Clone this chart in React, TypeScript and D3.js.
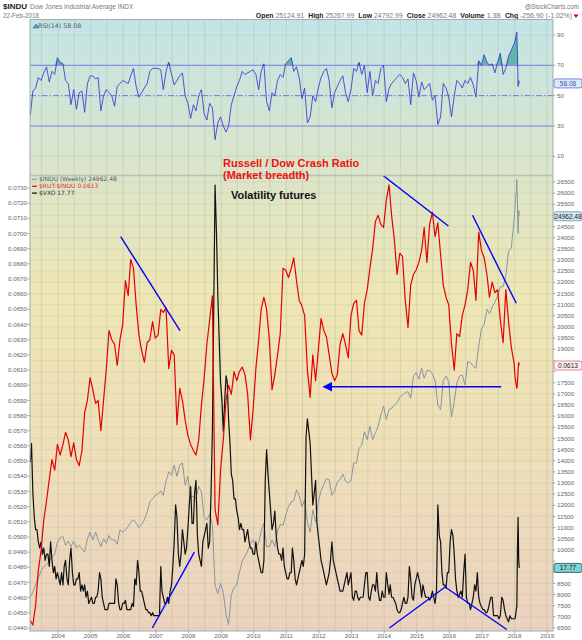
import * as d3 from 'd3';

// ---- data ----
const years = ['2004', '2005', '2006', '2007', '2008', '2009', '2010', '2011', '2012', '2013', '2014', '2015', '2016', '2017', '2018', '2019'];
const rsiTicks = [10, 30, 50, 70, 90];
const induTicks = d3.range(6500, 26501, 500);
const ratioTicks = d3.range(440, 731, 10).map(v => v / 10000);

// monthly closes, Feb 2003 .. Dec 2017
const induMonthly = [
  7900, 8100, 8450, 8750, 9050, 9250, 9350, 9500, 9700, 9800, 10350,
  10550, 10600, 10200, 10400, 10150, 10400, 10100, 10200, 10050, 9900, 10500, 10800,
  10450, 10800, 10450, 10150, 10500, 10300, 10650, 10450, 10450, 10250, 10900, 10800,
  10900, 11050, 11250, 11350, 11200, 11000, 11150, 11350, 11700, 12150, 12300, 12450,
  12500, 12650, 12450, 13100, 13500, 13350, 13800, 13300, 13800, 13900, 12900, 13300,
  12400, 12400, 12300, 12850, 12600, 11450, 11350, 11600, 11150, 8400, 8050, 8500,
  8100, 7100, 6650, 8000, 8300, 8450, 9000, 9500, 9700, 9950, 10300, 10450,
  10150, 10300, 10850, 11200, 10150, 10150, 10450, 10150, 10850, 11150, 11100, 11550,
  11950, 12150, 12200, 12700, 12450, 11950, 12250, 11250, 10800, 11800, 11250, 12150,
  12650, 12950, 13200, 13150, 12450, 12650, 13050, 13150, 13400, 13100, 13000, 13100,
  13900, 13900, 14550, 14700, 15300, 14950, 15550, 14950, 15250, 15550, 16050, 16450,
  15850, 16300, 16350, 16500, 16600, 16850, 16950, 17050, 17100, 16800, 17800, 17950,
  17650, 18150, 17700, 18050, 18050, 17900, 17600, 16500, 16300, 17600, 17800, 17550,
  15950, 16650, 17500, 17800, 17850, 17400, 18450, 18400, 18250, 18150, 19150, 19900,
  20100, 20800, 20600, 20900, 21100, 21400, 21800, 21800, 22300, 23400, 23550, 24750,
];
const ratioMonthly = [
  0.0445, 0.0442, 0.0455, 0.0478, 0.0491, 0.0511, 0.0524, 0.0538, 0.0551, 0.0544, 0.0561,
  0.0554, 0.0561, 0.0569, 0.0564, 0.0553, 0.0562, 0.0551, 0.0547, 0.0557, 0.0582, 0.0590, 0.0605,
  0.0597, 0.0588, 0.0590, 0.0570, 0.0590, 0.0611, 0.0636, 0.0630, 0.0627, 0.0613, 0.0630, 0.0640,
  0.0669, 0.0659, 0.0683, 0.0677, 0.0653, 0.0633, 0.0623, 0.0615, 0.0628, 0.0630, 0.0642, 0.0631,
  0.0633, 0.0650, 0.0648, 0.0651, 0.0611, 0.0623, 0.0620, 0.0574, 0.0598, 0.0590, 0.0577, 0.0567,
  0.0561, 0.0557, 0.0554, 0.0564, 0.0587, 0.0605, 0.0627, 0.0643, 0.0659, 0.0518, 0.0508, 0.0544,
  0.0564, 0.0590, 0.0600, 0.0594, 0.0609, 0.0603, 0.0609, 0.0612, 0.0607, 0.0594, 0.0564, 0.0584,
  0.0611, 0.0630, 0.0650, 0.0658, 0.0650, 0.0630, 0.0597, 0.0607, 0.0620, 0.0634, 0.0677, 0.0676,
  0.0671, 0.0677, 0.0684, 0.0669, 0.0656, 0.0652, 0.0646, 0.0610, 0.0592, 0.0620, 0.0603, 0.0623,
  0.0644, 0.0636, 0.0632, 0.0620, 0.0608, 0.0603, 0.0607, 0.0627, 0.0634, 0.0627, 0.0618, 0.0646,
  0.0654, 0.0656, 0.0636, 0.0633, 0.0654, 0.0663, 0.0677, 0.0690, 0.0708, 0.0712, 0.0706, 0.0704,
  0.0722, 0.0732, 0.0712, 0.0696, 0.0673, 0.0687, 0.0685, 0.0656, 0.0638, 0.0666, 0.0673, 0.0676,
  0.0681, 0.0689, 0.0704, 0.0681, 0.0706, 0.0714, 0.0698, 0.0707, 0.0686, 0.0666, 0.0658, 0.0653,
  0.0627, 0.0610, 0.0634, 0.0632, 0.0646, 0.0653, 0.0663, 0.0681, 0.0676, 0.0656, 0.0701, 0.0689,
  0.0684, 0.0673, 0.0658, 0.0668, 0.0661, 0.0663, 0.0643, 0.0628, 0.0663, 0.0642, 0.0625, 0.0615,
];
const rsiMonthly = [
  37, 53, 55, 62, 60, 65, 69, 59, 66, 64, 75,
  72, 71, 60, 58, 44, 54, 41, 52, 53, 39, 58, 63,
  63, 61, 62, 40, 50, 54, 52, 50, 43, 56, 58, 60,
  59, 58, 63, 68, 56, 49, 52, 55, 58, 66, 68, 68,
  68, 67, 54, 66, 72, 64, 57, 60, 63, 65, 50, 45,
  35, 44, 40, 50, 54, 38, 34, 45, 42, 21, 32, 36,
  30, 26, 30, 44, 50, 56, 60, 66, 64, 65, 66, 67,
  64, 54, 66, 71, 46, 40, 52, 50, 60, 64, 62, 71,
  73, 75, 66, 69, 62, 48, 55, 32, 36, 50, 46, 55,
  62, 66, 68, 60, 42, 52, 56, 60, 63, 52, 46, 54,
  68, 66, 72, 64, 70, 52, 66, 50, 60, 58, 68, 70,
  46, 55, 58, 60, 62, 64, 62, 58, 61, 44, 65, 60,
  49, 59, 54, 56, 58, 47, 50, 31, 36, 58, 55, 49,
  36, 50, 60, 58, 55, 60, 58, 62, 57, 49, 73, 70,
  77, 72, 70, 71, 65, 72, 78, 64, 68, 76, 80, 84,
];
// VXO twice a month (10th and 25th), Feb 2003 .. Dec 2017
const vxoHalfMonthly = [
  36, 35, 38, 30, 26, 24, 24, 22, 21, 22, 20, 21, 19, 20, 20, 18, 22, 19, 17, 18, 16, 17,
  16, 15, 17, 15, 18, 19, 16, 15, 19, 21, 17, 15, 15, 16, 16, 17, 14, 15, 14, 15, 13, 14, 12, 12.5,
  13, 12, 12, 13, 13, 14, 17, 16, 13, 12, 11, 11, 11, 12, 12, 12, 12, 12, 16, 15, 12, 11, 11, 12,
  12, 12.5, 11, 11, 11, 11, 12, 11.5, 16, 15, 19, 17, 14, 14, 13, 12, 11, 11, 10.5, 10.5, 10, 10.5, 10, 10,
  10, 10, 10, 18, 14, 13, 12, 12, 13, 12, 14, 15, 18, 22, 28, 26, 20, 18, 20, 24, 22, 20, 21, 24,
  28, 31, 25, 25, 30, 32, 23, 20, 19, 18, 22, 23, 24, 25, 21, 22, 30, 40, 60, 80, 72, 62, 55, 48,
  45, 40, 45, 49, 48, 42, 38, 33, 32, 29, 29, 27, 26, 24, 25, 24, 24, 22, 23, 24, 22, 21, 21, 20,
  20, 22, 20, 19, 18, 17, 17, 19, 32, 37, 33, 30, 27, 24, 25, 27, 23, 21, 20, 20, 19, 21, 18, 17,
  16, 16, 17, 17, 21, 19, 16, 15, 16, 17, 18, 19, 18, 20, 39, 42, 40, 38, 33, 28, 30, 32, 25, 23,
  21, 19, 18, 17, 16, 15, 16, 17, 19, 22, 19, 18, 17, 16, 15, 14, 14, 14, 15, 16, 17, 15, 16, 17,
  13, 12.5, 14, 14, 13, 12.5, 13, 13, 13, 15, 17, 17, 13, 12.5, 14, 15, 15, 14, 17, 14, 12.5, 12.5, 14, 13,
  13, 17, 15, 13.5, 15, 13, 13, 12.5, 12, 11, 10.5, 10.5, 11, 12, 13, 12, 12, 13, 18, 16, 13, 12.5, 15, 16,
  17, 16, 15, 13, 15, 14, 13, 13, 13, 12.5, 13, 14, 13, 12, 14, 28, 23, 22, 17, 15, 15, 14.5, 17, 17,
  22, 24, 23, 20, 16, 14, 13, 13.5, 14, 13, 17, 20, 13, 12, 12, 11, 12, 13, 15, 14, 17, 13, 12, 11.5,
  11, 11, 10.5, 10.5, 11, 12, 13, 13, 10, 10, 10, 10, 9.5, 10, 13, 12.5, 11, 10, 9.5, 9, 10, 9.5, 9.5, 9.5,
];

// weekly closes, Jan-Feb 2018
const tailDates = ['2018-01-05', '2018-01-12', '2018-01-19', '2018-01-26', '2018-02-02', '2018-02-09', '2018-02-16', '2018-02-22'];
const induTail = [25300, 25800, 26070, 26620, 25520, 24190, 25220, 24962.48];
const ratioTail = [0.0606, 0.0603, 0.0600, 0.0598, 0.0602, 0.0610, 0.0615, 0.0613];
const vxoTail = [9.5, 10, 11, 11.5, 21, 26, 19, 17.77];
const rsiTail = [86, 88, 90, 92, 78, 56, 60, 58.08];

// hand-drawn blue trend lines, [decimal year, ratio]
const trendLines: [number, number][][] = [
  [[2005.92, 0.0698], [2007.74, 0.0636]],
  [[2006.89, 0.0440], [2008.18, 0.0490]],
  [[2013.86, 0.0740], [2015.97, 0.0705]],
  [[2016.71, 0.0712], [2018.05, 0.0654]],
  [[2014.16, 0.0440], [2015.87, 0.0467], [2017.76, 0.0439]],
];
const arrowLine: [number, number][] = [[2017.59, 0.0599], [2012.14, 0.0599]];

const headerStats = [
  ['Open', '25124.91'], ['High', '25267.99'], ['Low', '24792.99'], ['Close', '24962.48'],
  ['Volume', '1.3B'], ['Chg', '-256.90 (-1.02%)'],
];

const legendRows = [
  ['$INDU (Weekly) 24962.48', '#8696a4', '#556'],
  ['$RUT:$INDU 0.0613', '#e50000', '#e03030'],
  ['$VXO 17.77', '#111', '#333'],
];

const parse = d3.timeParse('%Y-%m-%d');
const tail = tailDates.map(s => parse(s)!);
const dates: Date[] = [
  ...induMonthly.map((_, i) => d3.timeMonth.offset(new Date(2003, 1, 25), i)),
  ...tail,
];
const vxoDates: Date[] = [
  ...vxoHalfMonthly.map((_, i) => new Date(2003, 1 + Math.floor(i / 2), i % 2 ? 25 : 10)),
  ...tail,
];
const indu = [...induMonthly, ...induTail];
const ratio = [...ratioMonthly, ...ratioTail];
const vxo = [...vxoHalfMonthly, ...vxoTail];
const rsi = [...rsiMonthly, ...rsiTail];

const yearDate = (t: number) => {
  const y0 = Math.floor(t);
  const a = new Date(y0, 0, 1), b = new Date(y0 + 1, 0, 1);
  return new Date(+a + (t - y0) * (+b - +a));
};

const SANS = 'Liberation Sans, Arial, sans-serif';
const SMALL = 'DejaVu Sans, Verdana, sans-serif';

export default function App() {
  const left = 30, right = 553;
  const rsiTop = 19.5, split = 175.5, bottom = 631;

  const x = d3.scaleTime().domain([new Date(2003, 1, 21), new Date(2019, 2, 7)]).range([left, right]);
  const yRsi = d3.scaleLinear().domain([0, 100]).range([171.5, 19.8]);
  const yIndu = d3.scaleLinear().domain([6500, 26500]).range([628, 182]);
  const yRatio = d3.scaleLinear().domain([0.044, 0.073]).range([628, 188]);
  const yVxo = d3.scaleLinear().domain([8, 80.5]).range([628, 182]);

  const lineOf = (y: d3.ScaleLinear<number, number>, ds: Date[] = dates) =>
    d3.line<number>().x((_, i) => x(ds[i])).y(v => y(v));
  const rsiFill = d3.area<number>()
    .x((_, i) => x(dates[i]))
    .y0(yRsi(70))
    .y1(v => yRsi(Math.max(v, 70)));
  const trend = d3.line<[number, number]>().x(d => x(yearDate(d[0]))).y(d => yRatio(d[1]));

  const halfYears = d3.timeMonth.every(6)!.range(new Date(2003, 5, 1), new Date(2019, 1, 1));
  const fmtRatio = d3.format('.4f');

  const lastIndu = indu[indu.length - 1];
  const lastRatio = ratio[ratio.length - 1];
  const lastVxo = vxo[vxo.length - 1];
  const lastRsi = rsi[rsi.length - 1];

  // right-side tick labels hidden behind the last-value boxes
  const boxYs = [yIndu(lastIndu), yRatio(lastRatio), yVxo(lastVxo)];
  const freeOfBoxes = (py: number) => boxYs.every(b => Math.abs(b - py) > 7);

  const valueBox = (y: number, label: string, fill: string, stroke: string, color: string) => (
    <g>
      <rect x={right + 1} y={y - 4.5} width={28} height={9} rx={2} fill={fill} stroke={stroke} strokeWidth={0.8} />
      <text x={right + 15} y={y + 2.3} textAnchor="middle" fontSize={6.5} fill={color} fontFamily={SANS}>{label}</text>
    </g>
  );

  return (
    <div style={{ position: 'absolute', left: 0, top: 0 }}>
      <svg width={582} height={640} style={{ display: 'block', background: '#fff' }}>
        <defs>
          <linearGradient id="bg" gradientUnits="userSpaceOnUse" x1={0} y1={rsiTop} x2={0} y2={bottom}>
            <stop offset="0" stopColor="#c3e4e6" />
            <stop offset="0.25" stopColor="#dbe5c9" />
            <stop offset="0.45" stopColor="#eee6b4" />
            <stop offset="0.7" stopColor="#efdfb8" />
            <stop offset="1" stopColor="#ebd2bf" />
          </linearGradient>
          <marker id="arrow" viewBox="0 0 10 10" refX={9} refY={5} markerWidth={7} markerHeight={7} orient="auto">
            <path d="M0,0 L10,5 L0,10 Z" fill="#0000ff" />
          </marker>
          <clipPath id="clipPrice"><rect x={left} y={split} width={right - left} height={bottom - split} /></clipPath>
          <clipPath id="clipRsi"><rect x={left} y={rsiTop} width={right - left} height={split - rsiTop} /></clipPath>
        </defs>

        {/* header */}
        <text x={3} y={9} fontFamily={SANS} fontSize={8} fontWeight="bold" fill="#222">$INDU
          <tspan fontWeight="normal" fontSize={6.5} fill="#777" dx={3}>Dow Jones Industrial Average INDX</tspan>
        </text>
        <text x={3} y={18} fontFamily={SANS} fontSize={6.3} fill="#777">22-Feb-2018</text>
        <text x={579} y={9} textAnchor="end" fontFamily={SANS} fontSize={6.3} fill="#777">@StockCharts.com</text>
        <text x={572} y={17.5} textAnchor="end" fontFamily={SANS} fontSize={6.9}>
          {headerStats.map(([k, v], i) => (
            <tspan key={k}>
              <tspan fontWeight="bold" fill="#222" dx={i ? 4 : 0}>{k}</tspan>
              <tspan fill="#777" dx={2}>{v}</tspan>
            </tspan>
          ))}
        </text>
        <path d="M573.5,14.5 L578.5,14.5 L576,18 Z" fill="#e00000" />

        {/* plot background */}
        <rect x={left} y={rsiTop} width={right - left} height={bottom - rsiTop} fill="url(#bg)" />

        {/* vertical grid */}
        {halfYears.map(d => (
          <line key={+d} x1={x(d)} x2={x(d)} y1={rsiTop} y2={bottom} stroke="#a9b39a" strokeOpacity={0.45} strokeWidth={0.8} />
        ))}
        {/* horizontal grid in price panel */}
        {induTicks.map(t => (
          <line key={t} x1={left} x2={right} y1={yIndu(t)} y2={yIndu(t)} stroke="#a9b39a" strokeOpacity={0.3} strokeWidth={0.7} />
        ))}

        {/* RSI panel */}
        <g clipPath="url(#clipRsi)">
          {[10, 90].map(t => (
            <line key={t} x1={left} x2={right} y1={yRsi(t)} y2={yRsi(t)} stroke="#a9b39a" strokeOpacity={0.35} strokeWidth={0.7} />
          ))}
          <path d={rsiFill(rsi)!} fill="#4fae9e" fillOpacity={0.85} />
          <line x1={left} x2={right} y1={yRsi(70)} y2={yRsi(70)} stroke="#8c8ce0" strokeWidth={1.3} />
          <line x1={left} x2={right} y1={yRsi(30)} y2={yRsi(30)} stroke="#7c7ce0" strokeWidth={1.1} />
          <line x1={left} x2={right} y1={yRsi(50)} y2={yRsi(50)} stroke="#6a6ae6" strokeWidth={0.9} strokeDasharray="6 2 1.5 2" />
          <path d={lineOf(yRsi)(rsi)!} fill="none" stroke="#3838d0" strokeWidth={1} strokeOpacity={0.85} />
        </g>
        <path d={`M${left + 3},28 l3,-4 l3,4 Z`} fill="#4fae9e" stroke="#3838d0" strokeWidth={0.5} />
        <text x={left + 8} y={28} fontFamily={SMALL} fontSize={6.3} fill="#556">RSI(14) 58.08</text>

        {/* price panel */}
        <g clipPath="url(#clipPrice)">
          <path d={lineOf(yIndu)(indu)!} fill="none" stroke="#8696a4" strokeWidth={1} />
          <path d={lineOf(yVxo, vxoDates)(vxo)!} fill="none" stroke="#111" strokeWidth={1.2} strokeLinejoin="round" />
          <path d={lineOf(yRatio)(ratio)!} fill="none" stroke="#e50000" strokeWidth={1.2} strokeLinejoin="round" />
          {trendLines.map((pts, i) => (
            <path key={i} d={trend(pts)!} fill="none" stroke="#0000ff" strokeWidth={1.4} />
          ))}
          <path d={trend(arrowLine)!} fill="none" stroke="#0000ff" strokeWidth={1.4} markerEnd="url(#arrow)" />
        </g>

        {/* frames */}
        <rect x={left} y={rsiTop} width={right - left} height={bottom - rsiTop} fill="none" stroke="#9fb0ae" strokeWidth={1} />
        <line x1={left} x2={right} y1={split} y2={split} stroke="#b4c0bc" strokeWidth={1.6} />

        {/* price legend */}
        {legendRows.map(([label, sw, col], i) => (
          <g key={label}>
            <line x1={left + 2} x2={left + 7} y1={179.3 + i * 6.9} y2={179.3 + i * 6.9} stroke={sw} strokeWidth={1.2} />
            <text x={left + 9} y={181.4 + i * 6.9} fontFamily={SMALL} fontSize={6} fill={col}>{label}</text>
          </g>
        ))}

        {/* annotations */}
        <text x={223} y={167} fontFamily={SANS} fontSize={11} fontWeight="bold" fill="#f01010">Russell / Dow Crash Ratio</text>
        <text x={223} y={178.5} fontFamily={SANS} fontSize={11} fontWeight="bold" fill="#f01010">(Market breadth)</text>
        <text x={231} y={198.5} fontFamily={SANS} fontSize={11} fontWeight="bold" fill="#111">Volatility futures</text>

        {/* right axis: RSI */}
        {rsiTicks.map(t => (
          <g key={t}>
            <line x1={right} x2={right + 2.5} y1={yRsi(t)} y2={yRsi(t)} stroke="#888" strokeWidth={0.7} />
            <text x={right + 4} y={yRsi(t) + 2.1} fontFamily={SANS} fontSize={6.2} fill="#666">{t}</text>
          </g>
        ))}
        {/* right axis: INDU */}
        {induTicks.map(t => (
          <g key={t}>
            <line x1={right} x2={right + 2.5} y1={yIndu(t)} y2={yIndu(t)} stroke="#888" strokeWidth={0.7} />
            {freeOfBoxes(yIndu(t)) && (
              <text x={right + 4} y={yIndu(t) + 2.1} fontFamily={SANS} fontSize={6.2} fill="#666">{t}</text>
            )}
          </g>
        ))}
        {/* left axis: ratio */}
        {ratioTicks.map(t => (
          <g key={t}>
            <line x1={left - 2.5} x2={left} y1={yRatio(t)} y2={yRatio(t)} stroke="#888" strokeWidth={0.7} />
            <text x={left - 3} y={yRatio(t) + 2.1} textAnchor="end" fontFamily={SANS} fontSize={6.2} fill="#666">{fmtRatio(t)}</text>
          </g>
        ))}
        {/* bottom axis: years */}
        {years.map(y => {
          const px = x(new Date(+y, 0, 1));
          return (
            <g key={y}>
              <line x1={px} x2={px} y1={bottom} y2={bottom + 2.5} stroke="#888" strokeWidth={0.7} />
              <text x={px} y={637.8} textAnchor="middle" fontFamily={SANS} fontSize={6.2} fill="#666">{y}</text>
            </g>
          );
        })}

        {/* last-value boxes */}
        {valueBox(yRsi(lastRsi), d3.format('.2f')(lastRsi), '#dde9fb', '#5a6ad8', '#4050a0')}
        {valueBox(yIndu(lastIndu), d3.format('.2f')(lastIndu), '#cfe8f2', '#6b8fa3', '#222')}
        {valueBox(yRatio(lastRatio), fmtRatio(lastRatio), '#fdf0f0', '#e06a6a', '#222')}
        {valueBox(yVxo(lastVxo), d3.format('.2f')(lastVxo), '#7fd3d3', '#1e4a4a', '#111')}
      </svg>
    </div>
  );
}
